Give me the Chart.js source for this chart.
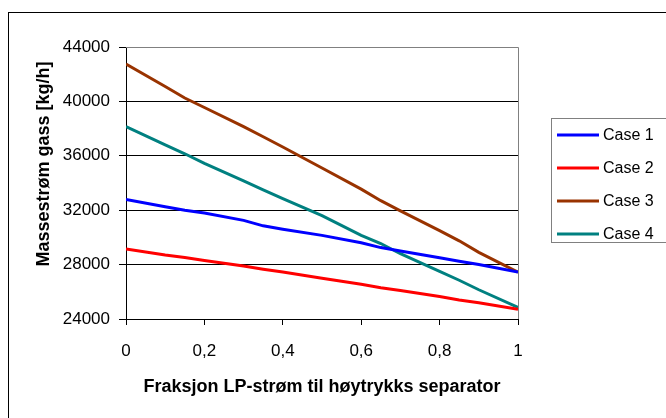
<!DOCTYPE html>
<html>
<head>
<meta charset="utf-8">
<script src="https://cdn.jsdelivr.net/npm/chart.js@4/dist/chart.umd.min.js"></script>
<style>
  html, body { margin: 0; padding: 0; background: #fff; }
  #wrap { width: 666px; height: 418px; }
</style>
</head>
<body>
<div id="wrap"><canvas id="chart" width="666" height="418"></canvas></div>
<script>
const fraction = [0, 0.1, 0.15, 0.2, 0.3, 0.35, 0.4, 0.5, 0.6, 0.65, 0.7, 0.8, 0.85, 0.9, 1];
const case1 = [32780, 32250, 32000, 31800, 31250, 30850, 30600, 30150, 29600, 29250, 29000, 28500, 28250, 28000, 27450];
const case2 = [29150, 28700, 28520, 28300, 27900, 27660, 27450, 27000, 26550, 26300, 26100, 25650, 25400, 25200, 24720];
const case3 = [42750, 41100, 40250, 39550, 38150, 37400, 36650, 35100, 33550, 32700, 31950, 30500, 29750, 28900, 27450];
const case4 = [38150, 36800, 36150, 35450, 34150, 33500, 32850, 31600, 30150, 29550, 28800, 27500, 26850, 26150, 24850];
const seriesNames = ["Case 1", "Case 2", "Case 3", "Case 4"];
const seriesColors = ["#0000ff", "#ff0000", "#993300", "#008080"];
const yTicks = [24000, 28000, 32000, 36000, 40000, 44000];
const yTitle = "Massestrøm gass [kg/h]";

const font = "'Liberation Sans', Arial, sans-serif";

function toPoints(values) {
  return values.map((v, i) => ({ x: fraction[i], y: v }));
}

// outer frame, plot frame, y title (sits a bit above centre) and the boxed legend
const framePlugin = {
  id: "frame",
  afterDraw(chart) {
    const ctx = chart.ctx;
    const area = chart.chartArea;
    ctx.save();
    ctx.lineWidth = 1;
    ctx.strokeStyle = "#000";
    ctx.strokeRect(8.5, 12.5, 700, 450);

    ctx.strokeStyle = "#808080";
    ctx.beginPath();
    ctx.moveTo(area.left, Math.round(area.top) + 0.5);
    ctx.lineTo(Math.round(area.right) + 0.5, Math.round(area.top) + 0.5);
    ctx.lineTo(Math.round(area.right) + 0.5, area.bottom);
    ctx.stroke();

    ctx.save();
    ctx.translate(44, 164);
    ctx.rotate(-Math.PI / 2);
    ctx.font = "bold 18px " + font;
    ctx.textAlign = "center";
    ctx.textBaseline = "middle";
    ctx.fillStyle = "#000";
    ctx.fillText(yTitle, 0, 0);
    ctx.restore();

    ctx.strokeStyle = "#808080";
    ctx.strokeRect(551.5, 118.5, 140, 124);
    const rows = [135, 168, 201, 234];
    ctx.font = "16px " + font;
    ctx.textBaseline = "middle";
    ctx.fillStyle = "#000";
    chart.data.datasets.forEach((ds, i) => {
      ctx.strokeStyle = ds.borderColor;
      ctx.lineWidth = 3;
      ctx.beginPath();
      ctx.moveTo(557, rows[i]);
      ctx.lineTo(599, rows[i]);
      ctx.stroke();
      ctx.fillText(ds.label, 603, rows[i] + 1);
    });
    ctx.restore();
  }
};

new Chart(document.getElementById("chart"), {
  type: "line",
  data: {
    datasets: [case1, case2, case3, case4].map((vals, i) => ({
      label: seriesNames[i],
      data: toPoints(vals),
      borderColor: seriesColors[i],
      backgroundColor: seriesColors[i],
      borderWidth: 3,
      pointRadius: 0,
      tension: 0,
      fill: false
    }))
  },
  options: {
    responsive: false,
    animation: false,
    events: [],
    layout: { padding: { top: 47, right: 148, bottom: 0, left: 0 } },
    plugins: {
      legend: { display: false },
      tooltip: { enabled: false }
    },
    scales: {
      x: {
        type: "linear",
        min: 0,
        max: 1,
        afterBuildTicks: scale => {
          scale.ticks = [0, 0.2, 0.4, 0.6, 0.8, 1].map(v => ({ value: v }));
        },
        afterFit: scale => { scale.height = 418 - 319; },
        grid: { drawOnChartArea: false, drawTicks: true, tickLength: 6, color: "#000" },
        border: { color: "#000", width: 1 },
        ticks: {
          maxRotation: 0,
          padding: 16,
          color: "#000",
          font: { family: font, size: 17 },
          callback: v => String(v).replace(".", ",")
        },
        title: {
          display: true,
          text: "Fraksjon LP-strøm til høytrykks separator",
          color: "#000",
          font: { family: font, size: 18, weight: "bold" },
          padding: { top: 0, bottom: 20 }
        }
      },
      y: {
        min: 24000,
        max: 44000,
        afterBuildTicks: scale => {
          scale.ticks = yTicks.map(v => ({ value: v }));
        },
        afterFit: scale => { scale.width = 126; },
        grid: { color: "#000", tickLength: 7, drawTicks: true },
        border: { color: "#000", width: 1 },
        ticks: {
          padding: 9,
          color: "#000",
          font: { family: font, size: 17 },
          callback: v => String(v)
        }
      }
    }
  },
  plugins: [framePlugin]
});
</script>
</body>
</html>
